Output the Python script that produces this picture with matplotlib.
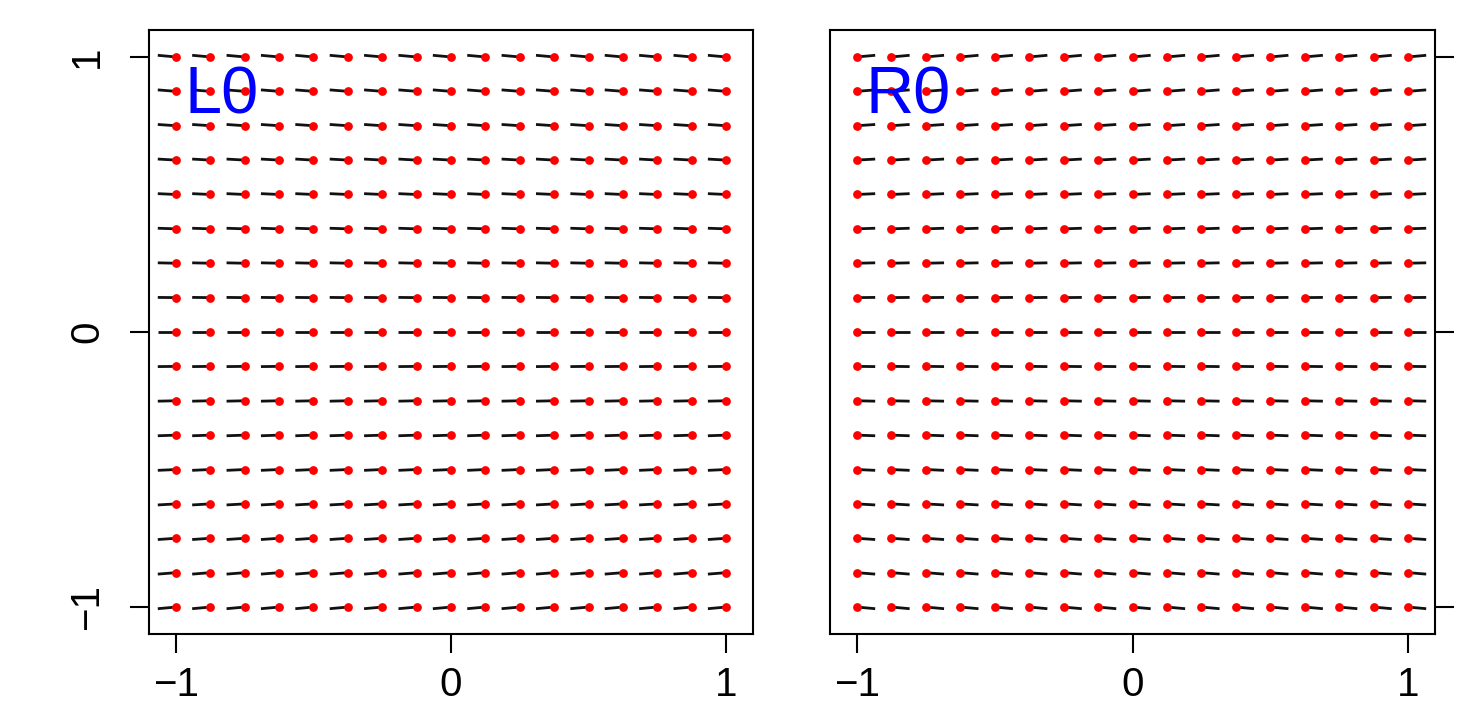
import numpy as np
import matplotlib
matplotlib.use('Agg')
import matplotlib.pyplot as plt

plt.rcParams['font.family'] = ['Liberation Sans', 'DejaVu Sans']

# grid of sample points (same for both panels)
grid_vals = [-1.0, -0.875, -0.75, -0.625, -0.5, -0.375, -0.25, -0.125, 0.0,
             0.125, 0.25, 0.375, 0.5, 0.625, 0.75, 0.875, 1.0]
# segment offsets: dx constant, dy proportional to y
seg_dx = {'L0': -0.066, 'R0': 0.066}
seg_dy_per_y = {'L0': 0.006, 'R0': 0.006}
panel_names = ['L0', 'R0']
tick_vals = [-1, 0, 1]
tick_labels = ['\u22121', '0', '1']

gx, gy = np.meshgrid(grid_vals, grid_vals)
gx = gx.ravel()
gy = gy.ravel()

fig = plt.figure(figsize=(14.66, 7.05), dpi=100)
ax_l = fig.add_axes([149 / 1466, 71 / 705, 604 / 1466, 604 / 705])
ax_r = fig.add_axes([830 / 1466, 71 / 705, 605 / 1466, 604 / 705])

for ax, name in zip([ax_l, ax_r], panel_names):
    ex = gx + seg_dx[name]
    ey = gy + seg_dy_per_y[name] * gy
    ax.plot(np.vstack([gx, ex]), np.vstack([gy, ey]), color='#111111',
            lw=2.0, solid_capstyle='butt')
    ax.plot(gx, gy, 'o', color='red', ms=6.3, mec='none', zorder=3)
    ax.text(-0.97, 0.855, name, color='blue', fontsize=48,
            ha='left', va='center')
    ax.set_xlim(-1.098, 1.098)
    ax.set_ylim(-1.098, 1.098)
    ax.set_xticks(tick_vals)
    ax.set_xticklabels(tick_labels)
    ax.set_yticks(tick_vals)
    for s in ax.spines.values():
        s.set_linewidth(1.5)
    ax.tick_params(axis='x', length=14, width=1.5, pad=9, labelsize=29,
                   direction='out')

ax_l.set_yticklabels(tick_labels, rotation=90, va='center')
ax_l.tick_params(axis='y', length=14, width=1.5, pad=17, labelsize=29)
ax_r.yaxis.tick_right()
ax_r.tick_params(axis='y', length=14, width=1.5, labelright=False)

fig.savefig('out.png', dpi=100)
